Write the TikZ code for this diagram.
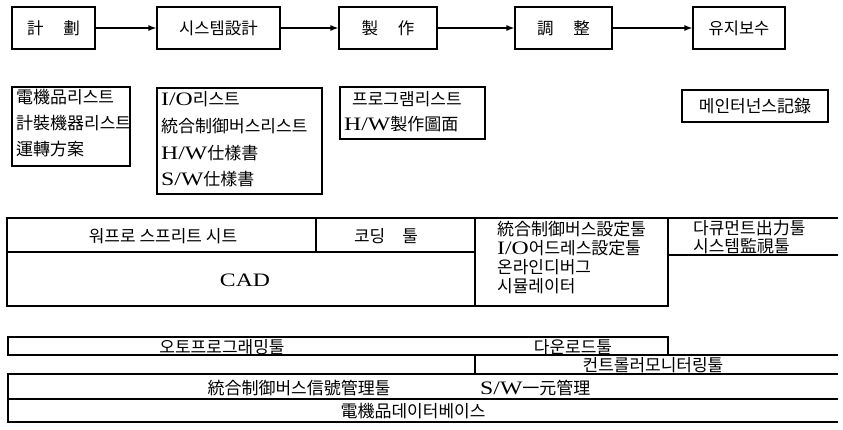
\documentclass[tikz,border=0pt]{standalone}
\usepackage{fontspec}
\setmainfont{Liberation Serif}
\newfontfamily\kr{Noto Sans CJK KR}
\newfontfamily\latf[FakeStretch=1.25]{Liberation Serif}
\newcommand\latn[1]{{\latf\fontsize{19}{20}\selectfont #1}}
\usetikzlibrary{arrows.meta}
\tikzset{
  box/.style={draw, line width=1.2pt, inner sep=0pt},
  lbl/.style={inner sep=0pt, font=\kr\fontsize{17}{20}\selectfont},
  toplbl/.style={inner sep=0pt, font=\kr\fontsize{16.5}{20}\selectfont},
  arr/.style={-{Latex[length=8pt,width=6pt]}, line width=1.2pt},
  ln/.style={line width=1.2pt}
}
\begin{document}
\begin{tikzpicture}[x=1pt,y=-1pt]
\useasboundingbox (0,0) rectangle (843,429);
% ---- top row (process flow)
\node[box, toplbl, minimum width=83pt, minimum height=42pt] (plan) at (53.5,28) {計\hspace{1.2em}劃};
\node[box, toplbl, minimum width=123pt, minimum height=42pt] (sys) at (218.5,28) {시스템設計};
\node[box, toplbl, minimum width=98pt, minimum height=42pt] (make) at (388,28) {製\hspace{1.2em}作};
\node[box, toplbl, minimum width=97pt, minimum height=42pt] (adj) at (563.5,28) {調\hspace{1.2em}整};
\node[box, toplbl, minimum width=92pt, minimum height=42pt] (keep) at (739,28) {유지보수};
\draw[arr] (plan.east) -- (sys.west);
\draw[arr] (sys.east) -- (make.west);
\draw[arr] (make.east) -- (adj.west);
\draw[arr] (adj.east) -- (keep.west);
% ---- documents row
\node[box, minimum width=118pt, minimum height=79pt] (docA) at (71,126.5) {};
\node[lbl, anchor=west] (a1) at (16,97) {電機品리스트};
\node[lbl, anchor=west] (a2) at (16,123) {計裝機器리스트};
\node[lbl, anchor=west] (a3) at (16,149) {運轉方案};
\node[box, minimum width=165pt, minimum height=106pt] (docB) at (239.5,141) {};
\node[lbl, anchor=west] (b1) at (161,99) {\latn{I/O}리스트};
\node[lbl, anchor=west] (b2) at (161,126) {統合制御버스리스트};
\node[lbl, anchor=west] (b3) at (161,153) {\latn{H/W}仕樣書};
\node[lbl, anchor=west] (b4) at (161,179) {\latn{S/W}仕樣書};
\node[box, minimum width=145pt, minimum height=52pt] (docC) at (412.5,113) {};
\node[lbl, anchor=west] (c1) at (352,99) {프로그램리스트};
\node[lbl, anchor=west] (c2) at (344,124) {\latn{H/W}製作圖面};
\node[box, lbl, minimum width=146pt, minimum height=32pt] (docD) at (755,106) {메인터넌스記錄};
% ---- tools table (upper)
\draw[ln] (7,218) rectangle (668,306);
\draw[ln] (7,252) -- (475,252);
\draw[ln] (316,218) -- (316,252);
\draw[ln] (475,218) -- (475,306);
\draw[ln] (668,218) -- (838,218);
\draw[ln] (668,255) -- (838,255);
\node[lbl] (wp) at (163,236) {워프로 스프리트 시트};
\node[lbl] (cd) at (386,236) {코딩\hspace{1em}툴};
\node[lbl] (cad) at (245,280) {\latn{CAD}};
\node[lbl, anchor=west] (t1) at (497,229) {統合制御버스設定툴};
\node[lbl, anchor=west] (t2) at (497,248) {\latn{I/O}어드레스設定툴};
\node[lbl, anchor=west] (t3) at (497,267) {온라인디버그};
\node[lbl, anchor=west] (t4) at (497,286) {시뮬레이터};
\node[lbl, anchor=west] (r1) at (693,228) {다큐먼트出力툴};
\node[lbl, anchor=west] (r2) at (693,246) {시스템監視툴};
% ---- tools table (lower)
\draw[ln] (8,337) rectangle (668,355);
\draw[ln] (668,355) -- (838,355);
\draw[ln] (475,355) -- (475,374);
\draw[ln] (838,374) -- (8,374) -- (8,422) -- (838,422);
\draw[ln] (8,399) -- (838,399);
\node[lbl] (ap) at (222,347) {오토프로그래밍툴};
\node[lbl] (dl) at (573,347) {다운로드툴};
\node[lbl] (cm) at (653,365) {컨트롤러모니터링툴};
\node[lbl] (sg) at (299,388) {統合制御버스信號管理툴};
\node[lbl, anchor=west] (sw) at (480,388) {\latn{S/W}一元管理};
\node[lbl] (db) at (413,411) {電機品데이터베이스};
\end{tikzpicture}
\end{document}
